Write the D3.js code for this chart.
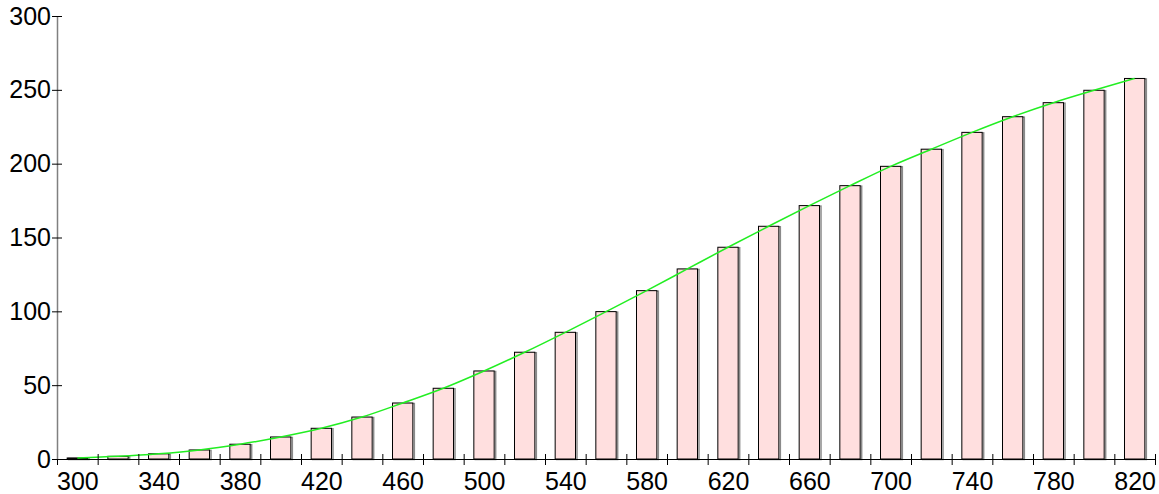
<!DOCTYPE html>
<html>
<head>
<meta charset="utf-8">
<script src="https://cdn.jsdelivr.net/npm/d3@7"></script>
<style>
  html, body { margin: 0; padding: 0; background: #fff; }
  svg { display: block; }
  text { font-family: "Liberation Sans", Arial, sans-serif; }
</style>
</head>
<body>
<svg id="chart" width="1159" height="494"></svg>
<script>
const categories = [300,320,340,360,380,400,420,440,460,480,500,520,540,560,580,600,620,640,660,680,700,720,740,760,780,800,820];
const values = [0.7,1.8,3.5,6.1,10,14.9,20.8,28.4,37.9,47.9,59.6,72.3,85.8,99.8,114,128.7,143.4,157.6,171.6,185.1,198.2,209.8,221.2,231.8,241.3,249.7,257.7];
const xTickLabels = [300,340,380,420,460,500,540,580,620,660,700,740,780,820];
const yTickValues = [0,50,100,150,200,250,300];

const svg = d3.select("#chart");
const mLeft = 57, mRight = 1155, mTop = 16, mBottom = 459;

const x = d3.scaleBand().domain(categories).range([mLeft, mRight]).paddingInner(0.5).paddingOuter(0.25);
const xb = d3.scaleLinear().domain([290, 830]).range([mLeft, mRight]);
const y = d3.scaleLinear().domain([0, 300]).range([mBottom, mTop]);

const data = categories.map((c, i) => ({c, v: values[i]}));

// bar shadows
svg.append("g").selectAll("rect").data(data).join("rect")
  .attr("x", d => x(d.c) + 1.5)
  .attr("y", d => y(d.v) + 0.5)
  .attr("width", x.bandwidth())
  .attr("height", d => mBottom - y(d.v))
  .attr("fill", "none")
  .attr("stroke", "#8a8a8a")
  .attr("stroke-width", 1.5);

// bars
svg.append("g").selectAll("rect").data(data).join("rect")
  .attr("x", d => x(d.c))
  .attr("y", d => y(d.v))
  .attr("width", x.bandwidth())
  .attr("height", d => mBottom - y(d.v))
  .attr("fill", "#ffdfdf")
  .attr("stroke", "#000")
  .attr("stroke-width", 1);

// curve
const line = d3.line()
  .x(d => x(d.c) + x.bandwidth() / 2)
  .y(d => y(d.v))
  .curve(d3.curveMonotoneX);
svg.append("path").datum(data)
  .attr("d", line)
  .attr("fill", "none")
  .attr("stroke", "#22ee22")
  .attr("stroke-width", 1.5);

// x axis: tick marks at band boundaries
const xAxisG = svg.append("g").attr("transform", `translate(0,${mBottom})`)
  .call(d3.axisBottom(xb).tickValues(d3.range(290, 831, 20)).tickFormat("").tickSize(0));
xAxisG.select(".domain").attr("stroke", "#000").attr("stroke-width", 1.2);
xAxisG.selectAll(".tick line").attr("y1", -5).attr("y2", 6).attr("stroke", "#000");

// x labels
const xLab = svg.append("g").attr("transform", `translate(0,${mBottom})`)
  .call(d3.axisBottom(xb).tickValues(xTickLabels).tickSize(0).tickFormat(d3.format("d")));
xLab.select(".domain").remove();
xLab.selectAll("text").attr("y", 13).attr("font-size", 25).attr("fill", "#000")
  .style("font-family", "'Liberation Sans', Arial, sans-serif");

// y axis
const yAxisG = svg.append("g").attr("transform", `translate(${mLeft},0)`)
  .call(d3.axisLeft(y).tickValues(yTickValues).tickSize(0).tickFormat(d3.format("d")));
yAxisG.select(".domain").attr("stroke", "#808080").attr("stroke-width", 1.5);
yAxisG.selectAll(".tick line").attr("x1", -5).attr("x2", 5).attr("stroke", "#000");
yAxisG.selectAll("text").attr("x", -6).attr("font-size", 25).attr("fill", "#000")
  .style("font-family", "'Liberation Sans', Arial, sans-serif");
</script>
</body>
</html>
